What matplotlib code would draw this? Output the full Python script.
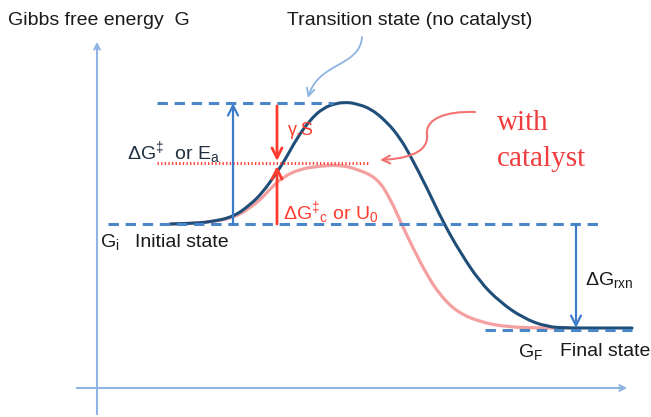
import matplotlib
matplotlib.use("Agg")
import matplotlib.pyplot as plt
from matplotlib.patches import FancyArrowPatch, PathPatch
from matplotlib.path import Path

plt.rcParams['font.family'] = ['Liberation Sans', 'DejaVu Sans']
plt.rcParams['mathtext.fontset'] = 'custom'
plt.rcParams['mathtext.rm'] = 'Liberation Sans'
plt.rcParams['mathtext.it'] = 'Liberation Sans:italic'

# energy levels (arbitrary units)
G_i = 193
G_ts = 314
G_cat = 254
G_f = 88

# reaction coordinate / Gibbs energy
x_nocat = [170, 190, 210, 233, 250, 263, 275, 285, 297, 310, 323, 337, 347, 353,
           370, 387, 400, 410, 427, 443, 460, 480, 500, 523, 547, 570, 600, 632]
g_nocat = [193, 193.5, 195, 200, 212, 225, 242, 257, 279, 297, 309, 314, 314.5, 314,
           309, 295, 279, 262, 229, 195, 165, 135, 115, 99, 90, 89, 89, 89]

x_cat = [170, 190, 210, 233, 250, 262, 270, 283, 300, 320, 340, 357, 377, 390,
         402, 413, 427, 440, 457, 480, 507, 540, 570]
g_cat = [193, 193.5, 195, 199, 209, 219, 228, 240, 248, 251, 252, 248, 239, 219,
         192, 169, 142, 122, 105, 95, 90, 89, 89]

navy = '#1f4e79'
dash_blue = '#4a86c8'
axis_blue = '#8db4e2'
red = '#ff3b30'
pink = '#f5a0a0'
txt = '#1a1a1a'


def smooth_path(xs, ys):
    # quadratic bezier through midpoints, read points used as control points
    verts = [(xs[0], ys[0])]
    codes = [Path.MOVETO]
    for k in range(1, len(xs) - 1):
        verts += [(xs[k], ys[k]), ((xs[k] + xs[k + 1]) / 2, (ys[k] + ys[k + 1]) / 2)]
        codes += [Path.CURVE3, Path.CURVE3]
    verts.append((xs[-1], ys[-1]))
    codes.append(Path.LINETO)
    return Path(verts, codes)


fig = plt.figure(figsize=(6.51, 4.17), dpi=100)
ax = fig.add_axes([0, 0, 1, 1])
ax.set_xlim(0, 651)
ax.set_ylim(0, 417)
ax.axis('off')

# axes with arrows
ax.annotate('', xy=(97, 378), xytext=(97, 0),
            arrowprops=dict(arrowstyle='->', color=axis_blue, lw=1.5))
ax.annotate('', xy=(630, 29), xytext=(74, 29),
            arrowprops=dict(arrowstyle='->', color=axis_blue, lw=1.5))

# dashed levels
ax.plot([157, 333], [G_ts, G_ts], color=dash_blue, lw=2.2, dashes=(3.4, 2.2))
ax.plot([108, 598], [G_i, G_i], color=dash_blue, lw=2.2, dashes=(3.4, 2.2))
ax.plot([485, 632], [G_f - 1, G_f - 1], color=dash_blue, lw=2.2, dashes=(3.4, 2.2))
ax.plot([157, 368], [G_cat, G_cat], color=red, lw=2, linestyle=(0, (0.5, 0.8)))

# curves
ax.add_patch(PathPatch(smooth_path(x_cat, g_cat), fill=False, edgecolor=pink,
                       lw=2.3, capstyle='round'))
ax.add_patch(PathPatch(smooth_path(x_nocat, g_nocat), fill=False, edgecolor=navy,
                       lw=2.2, capstyle='round'))

# vertical arrows
ax.annotate('', xy=(233, G_ts), xytext=(233, G_i),
            arrowprops=dict(arrowstyle='->', color='#3d7cc9', lw=1.6,
                            shrinkA=0, shrinkB=0, mutation_scale=18))
ax.annotate('', xy=(277, G_cat + 2), xytext=(277, G_ts - 3),
            arrowprops=dict(arrowstyle='->', color=red, lw=2,
                            shrinkA=0, shrinkB=0, mutation_scale=18))
ax.annotate('', xy=(277, G_cat - 3), xytext=(277, G_i),
            arrowprops=dict(arrowstyle='->', color=red, lw=2,
                            shrinkA=0, shrinkB=0, mutation_scale=18))
ax.annotate('', xy=(576, G_f + 1), xytext=(576, G_i),
            arrowprops=dict(arrowstyle='->', color='#3d7cc9', lw=1.6,
                            shrinkA=0, shrinkB=0, mutation_scale=18))

# curved pointer arrows
ts_path = Path([(362, 380), (360, 350), (318, 355), (308, 319)],
               [Path.MOVETO, Path.CURVE4, Path.CURVE4, Path.CURVE4])
ax.add_patch(FancyArrowPatch(path=ts_path, arrowstyle='->', color=axis_blue,
                             lw=1.3, mutation_scale=14))
cat_path = Path([(475, 305), (445, 306), (425, 298), (427, 282),
                 (429, 262), (400, 258), (380, 257)],
                [Path.MOVETO, Path.CURVE4, Path.CURVE4, Path.CURVE4,
                 Path.CURVE4, Path.CURVE4, Path.CURVE4])
ax.add_patch(FancyArrowPatch(path=cat_path, arrowstyle='->', color='#f47272',
                             lw=1.5, mutation_scale=14))

# texts
fs = 14
ax.text(8, 397, 'Gibbs free energy  G', fontsize=fs, color=txt, va='center')
ax.text(287, 397, 'Transition state (no catalyst)', fontsize=fs, color=txt, va='center')
ax.text(127, 264, r'ΔG$^{\ddagger}$  or E$_{\mathrm{a}}$', fontsize=fs,
        color='#1f2f40', va='center')
ax.text(288, 287, 'γ.S', fontsize=13, color=red, va='center')
ax.text(283, 204, r'ΔG$^{\ddagger}$$_{\mathrm{c}}$ or U$_{0}$', fontsize=fs,
        color=red, va='center')
ax.text(100, 175, r'G$_{\mathrm{i}}$', fontsize=fs, color=txt, va='center')
ax.text(135, 175, 'Initial state', fontsize=fs, color=txt, va='center')
ax.text(585, 137, r'ΔG$_{\mathrm{rxn}}$', fontsize=fs, color=txt, va='center')
ax.text(518, 65, r'G$_{\mathrm{F}}$', fontsize=fs, color=txt, va='center')
ax.text(560, 65, 'Final state', fontsize=fs, color=txt, va='center')
ax.text(497, 294, 'with', fontsize=21, color='#f03c3c', va='center',
        family='Liberation Serif')
ax.text(497, 258, 'catalyst', fontsize=21, color='#f03c3c', va='center',
        family='Liberation Serif')

fig.savefig('out.png', dpi=100)
